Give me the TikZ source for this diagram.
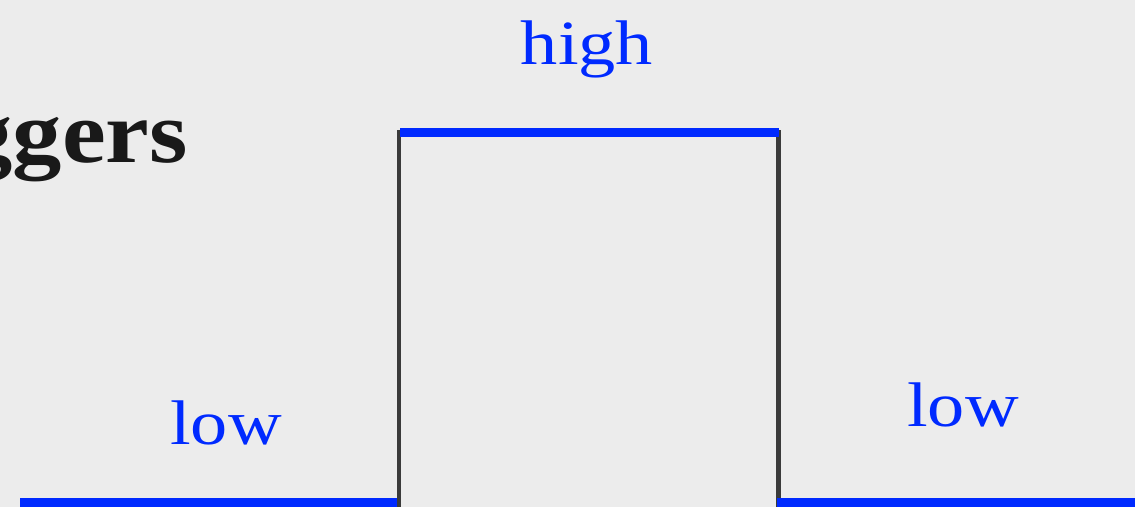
\documentclass[tikz,border=0pt]{standalone}
\usepackage{fontspec}
\setmainfont{Liberation Serif}
\definecolor{paper}{RGB}{236,236,236}
\definecolor{sigblue}{RGB}{0,42,255}
\definecolor{edgegray}{RGB}{58,58,58}
\tikzset{
  level/.style={draw=sigblue, line width=9pt},
  edge/.style={draw=edgegray, line width=4.5pt},
  lbl/.style={text=sigblue, font=\fontsize{63}{63}\selectfont, inner sep=0pt, anchor=base},
  title/.style={text=black!90, font=\fontsize{88}{88}\selectfont\bfseries, inner sep=0pt, anchor=base east}
}
\begin{document}
\begin{tikzpicture}[x=1pt,y=-1pt]
\fill[paper] (0,0) rectangle (1135,507);
\useasboundingbox (0,0) rectangle (1135,507);
\coordinate (l0) at (20,502.5);
\coordinate (r1b) at (399,507);
\coordinate (r1t) at (399,130);
\coordinate (h0) at (400,132);
\coordinate (h1) at (779,132);
\coordinate (f1t) at (778.5,130);
\coordinate (f1b) at (778.5,507);
\coordinate (l1) at (397,502.5);
\coordinate (l2) at (777,502.5);
\coordinate (l3) at (1135,502.5);
\draw[edge] (r1t) -- (r1b);
\draw[edge] (f1t) -- (f1b);
\draw[level] (l0) -- (l1);
\draw[level] (h0) -- (h1);
\draw[level] (l2) -- (l3);
\node[lbl] (high) at (587,64) {\scalebox{1.18}[1]{high}};
\node[lbl] (lowa) at (226,444) {\scalebox{1.18}[1]{low}};
\node[lbl] (lowb) at (963,426) {\scalebox{1.18}[1]{low}};
\node[title] (trig) at (188,162) {\scalebox{1.12}[1]{Triggers}};
\end{tikzpicture}
\end{document}
